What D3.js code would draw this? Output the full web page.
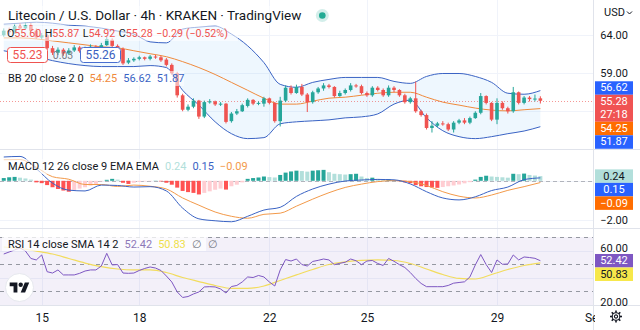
<!DOCTYPE html>
<html>
<head>
<meta charset="utf-8">
<title>LTCUSD 4h</title>
<script src="https://cdn.jsdelivr.net/npm/d3@7/dist/d3.min.js"></script>
<style>
  html, body { margin: 0; padding: 0; background: #ffffff; }
  svg { display: block; font-family: Roboto, "Noto Sans", "DejaVu Sans", sans-serif; }
</style>
</head>
<body>
<svg id="chart" width="640" height="330"></svg>
<script>
// ---- 4h candles, LTC/USD on KRAKEN, first bar 13 Aug 20:00 UTC ----
const firstCandle = Date.UTC(2022, 7, 13, 20);
const candleMs = 4 * 3600 * 1000;

const opens = [63.9,64.5,64.3,65.1,64.8,65.2,64.5,63.6,63.9,62.2,
  61.6,62.0,61.5,61.9,62.3,61.8,62.1,62.4,62.2,62.6,
  63.3,62.5,62.1,60.3,60.6,60.8,61.0,60.8,61.1,61.0,
  60.7,60.0,58.9,56.0,54.1,54.5,55.3,53.2,55.1,55.2,
  54.8,54.9,52.6,53.6,53.9,54.6,55.4,54.9,54.9,55.6,
  55.0,52.6,55.3,57.0,56.3,57.1,56.1,55.1,56.4,56.9,
  57.3,57.1,55.9,56.3,56.7,57.3,57.2,56.3,56.0,57.0,
  56.7,56.0,57.0,56.7,56.0,55.1,55.6,53.9,53.4,51.7,
  52.0,52.3,52.2,51.5,52.4,52.7,52.4,53.0,53.7,55.9,
  55.0,52.8,55.0,54.3,53.9,56.4,55.0,55.7,55.5,55.60];
const highs = [64.8,64.9,65.4,65.5,65.6,65.5,64.8,64.2,64.1,62.5,
  62.3,62.2,62.2,62.6,62.5,62.4,62.7,62.6,62.9,63.7,
  63.5,62.7,62.3,60.9,61.0,61.2,61.1,61.3,61.3,61.2,
  60.9,60.2,59.1,56.2,54.8,55.6,55.4,55.3,55.5,55.3,
  55.1,55.0,53.8,54.2,54.9,55.6,55.5,55.2,55.8,55.7,
  55.1,55.8,57.3,57.3,57.4,57.5,56.3,56.6,57.1,57.6,
  57.5,57.2,56.6,56.9,57.6,57.5,57.4,56.5,57.2,57.2,
  56.9,57.3,57.2,56.8,56.2,55.8,57.8,54.1,53.6,52.6,
  52.5,52.6,52.4,52.6,52.9,53.0,53.2,53.9,56.3,56.0,
  55.1,55.6,55.2,54.5,57.1,56.5,55.9,55.9,56.1,55.87];
const lows = [63.7,64.0,64.1,64.6,64.6,64.3,63.4,63.4,62.0,61.3,
  61.3,61.2,61.3,61.7,61.6,61.6,61.9,61.9,62.0,62.5,
  62.3,61.9,60.0,60.1,60.4,60.6,60.6,60.6,60.8,60.4,
  59.8,58.7,55.7,53.9,53.9,54.3,52.9,53.0,54.9,54.6,
  54.6,52.3,52.4,53.4,53.8,54.4,54.7,54.7,54.5,54.8,
  52.4,51.9,55.1,56.1,56.2,55.9,53.8,54.9,56.2,56.6,
  56.9,55.7,55.8,56.1,56.5,57.0,56.1,55.8,55.8,56.5,
  55.8,55.8,56.4,55.8,54.9,54.9,53.7,53.2,51.5,51.1,
  51.8,52.0,51.3,51.1,52.2,52.2,52.2,52.9,53.5,54.8,
  52.6,52.2,54.1,53.6,53.7,54.8,54.8,55.2,55.2,54.92];
const closes = [64.5,64.3,65.1,64.8,65.2,64.5,63.6,63.9,62.2,61.6,
  62.0,61.5,61.9,62.3,61.8,62.1,62.4,62.2,62.6,63.4,
  62.5,62.1,60.2,60.6,60.8,61.0,60.8,61.1,61.0,60.6,
  60.0,58.9,56.0,54.1,54.5,55.3,53.2,55.1,55.2,54.8,
  54.9,52.5,53.6,53.9,54.7,55.4,54.9,55.0,55.6,55.0,
  52.6,55.3,57.0,56.3,57.1,56.1,55.1,56.4,56.9,57.3,
  57.1,55.9,56.3,56.7,57.3,57.2,56.3,56.0,57.0,56.7,
  56.0,57.0,56.7,56.0,55.1,55.6,53.9,53.4,51.7,52.0,
  52.3,52.2,51.5,52.4,52.7,52.4,53.0,53.7,55.9,55.0,
  52.8,55.0,54.3,53.9,56.4,55.0,55.7,55.5,55.57,55.28];

// quote box
const bidPrice = 55.23;
const askPrice = 55.26;
const countdown = "27:18";

// Bollinger Bands (20, 2), one reading every 3rd candle
const lineStep = 3;
const bbUpper = [65.36,65.49,65.62,65.49,65.23,65.10,64.84,64.45,64.06,63.03,62.90,64.71,64.97,65.10,64.06,62.51,60.30,57.44,57.05,57.70,58.09,58.35,58.35,58.35,57.83,57.57,58.48,58.87,58.87,58.48,57.70,56.27,56.14,56.62];
const bbBasis = [63.55,63.55,63.42,63.16,62.90,62.64,62.38,62.25,61.86,61.47,61.08,60.43,59.65,58.74,57.70,56.66,55.62,54.84,54.84,55.23,55.62,55.75,56.01,56.27,56.40,56.40,55.75,55.10,54.71,54.32,54.05,53.95,54.10,54.25];
const bbLower = [61.86,61.47,61.08,60.56,60.17,59.91,59.78,59.78,59.78,59.91,59.65,56.66,54.71,52.51,50.95,50.30,50.43,52.25,52.51,52.64,52.77,53.03,53.16,53.55,54.84,55.36,53.03,51.34,50.56,50.30,50.56,50.95,51.30,51.87];

// MACD (12, 26, 9): lines every 3rd candle, histogram on every candle
const macdLine = [1.22,1.25,0.62,-0.12,-0.48,-0.52,-0.22,-0.24,-0.32,-0.30,-0.52,-1.40,-1.95,-2.05,-2.10,-1.82,-1.50,-1.36,-0.80,-0.42,-0.17,-0.01,0.04,0.07,0.05,-0.16,-0.56,-0.88,-0.98,-0.82,-0.50,-0.32,0.06,0.15];
const macdSignal = [1.08,1.09,0.70,0.21,0.08,-0.19,-0.19,-0.29,-0.22,-0.28,-0.42,-0.88,-1.25,-1.60,-1.82,-1.92,-1.72,-1.66,-1.30,-0.94,-0.61,-0.34,-0.17,-0.04,0.01,-0.04,-0.24,-0.56,-0.79,-0.88,-0.73,-0.49,-0.30,-0.09];
const macdHist = [0.14,0.18,0.20,0.16,0.12,0.06,-0.08,-0.12,-0.22,-0.33,
  -0.42,-0.50,-0.56,-0.48,-0.40,-0.33,-0.25,-0.16,-0.03,0.05,
  0.10,0.06,-0.10,-0.16,-0.10,-0.06,-0.03,-0.02,0.01,-0.03,
  -0.10,-0.20,-0.35,-0.52,-0.58,-0.62,-0.70,-0.62,-0.54,-0.46,
  -0.40,-0.45,-0.28,-0.20,-0.08,0.10,0.14,0.17,0.22,0.19,
  0.17,0.30,0.42,0.48,0.52,0.50,0.47,0.52,0.54,0.56,
  0.44,0.36,0.34,0.32,0.34,0.36,0.22,0.14,0.16,0.10,
  0.06,0.08,0.04,-0.02,-0.08,-0.12,-0.22,-0.28,-0.32,-0.34,
  -0.36,-0.32,-0.28,-0.24,-0.19,-0.13,-0.07,0.06,0.20,0.26,
  0.22,0.20,0.18,0.16,0.36,0.34,0.37,0.30,0.27,0.24];

// RSI (14) on every candle, its SMA (14) every 3rd candle
const rsi = [57.4,58.9,60.4,61.9,59.6,54.1,53.0,56.7,44.3,43.3,
  45.6,41.9,41.9,41.9,43.1,44.8,45.6,45.6,48.5,57.9,
  49.3,49.6,43.3,43.1,43.3,45.2,46.7,47.8,47.0,45.2,
  41.1,36.7,29.3,25.2,25.9,27.8,29.3,33.0,33.2,33.0,
  31.5,28.5,33.3,34.1,36.7,40.4,40.0,41.5,40.4,36.7,
  33.7,45.6,53.3,52.2,53.7,49.6,48.5,51.9,52.7,53.7,
  53.0,49.5,50.5,51.3,53.7,52.4,49.5,52.2,52.6,50.4,
  48.9,54.1,52.0,49.5,47.4,43.7,39.3,35.6,33.2,33.2,
  33.2,33.2,34.1,35.8,36.3,36.8,40.4,49.3,57.0,49.6,
  43.7,53.0,49.8,50.0,56.7,53.0,55.2,54.8,54.2,52.42];
const rsiMa = [62.6,61.5,59.6,57.4,54.1,50.7,48.1,46.3,45.6,45.6,43.7,40.0,37.0,34.1,31.9,31.9,33.7,37.8,41.9,45.9,49.6,51.6,52.7,53.0,52.6,50.4,46.3,42.2,39.3,38.9,42.2,45.9,48.9,50.83];

// axes
const timeTicks = [Date.UTC(2022,7,15), Date.UTC(2022,7,18), Date.UTC(2022,7,22), Date.UTC(2022,7,25), Date.UTC(2022,7,29), Date.UTC(2022,8,1)];
const timeTickLabels = ["15", "18", "22", "25", "29", "Sep"];
const priceTicks = [64, 59, 54, 49];
const priceTickLabels = [64, 59];
const macdTicks = [0, -2];
const macdTickLabels = [-2];
const rsiTicks = [60, 40, 20];
const rsiTickLabels = [60, 20];
const rsiLevels = [70, 50, 30];

// ---------------------------------------------------------------
const UP = "#26a69a", DOWN = "#ef5350", BLUE = "#2962ff", ORANGE = "#ff6d00", PURPLE = "#7e57c2", YELLOW = "#f2dc5d";
const W = 640, H = 330, PR = 593;
const pane = { price: [0, 149], macd: [150, 228], rsi: [229, 305] };

const svg = d3.select("#chart");
const defs = svg.append("defs");
function clip(id, x0, y0, x1, y1) {
  defs.append("clipPath").attr("id", id).append("rect")
    .attr("x", x0).attr("y", y0).attr("width", x1 - x0).attr("height", y1 - y0);
  return `url(#${id})`;
}

const x = d3.scaleUtc()
  .domain([Date.UTC(2022, 7, 15), Date.UTC(2022, 7, 29)])
  .range([41.7, 497]);
const yP = d3.scaleLinear().domain([59, 64]).range([72.5, 34.5]);
const yM = d3.scaleLinear().domain([0, -2]).range([180.8, 219.8]);
const yR = d3.scaleLinear().domain([30, 70]).range([291, 237]);

const tAt = i => new Date(firstCandle + i * candleMs);
const candles = opens.map((o, i) => ({ t: tAt(i), o, h: highs[i], l: lows[i], c: closes[i] }));
const sampled = arr => arr.map((v, k) => ({ t: tAt(Math.min(k * lineStep, opens.length - 1)), v }));

// ---- grid ----
const grid = svg.append("g").attr("stroke", "#f0f3fa").attr("stroke-width", 1);
grid.selectAll("line.v").data(timeTicks.filter(d => x(d) < PR)).join("line")
  .attr("x1", d => Math.round(x(d)) + 0.5).attr("x2", d => Math.round(x(d)) + 0.5)
  .attr("y1", 0).attr("y2", pane.rsi[1]);
grid.selectAll("line.p").data(priceTicks).join("line")
  .attr("x1", 0).attr("x2", PR).attr("y1", d => Math.round(yP(d)) + 0.5).attr("y2", d => Math.round(yP(d)) + 0.5);
grid.selectAll("line.m").data(macdTicks).join("line")
  .attr("x1", 0).attr("x2", PR).attr("y1", d => Math.round(yM(d)) + 0.5).attr("y2", d => Math.round(yM(d)) + 0.5);
grid.selectAll("line.r").data(rsiTicks).join("line")
  .attr("x1", 0).attr("x2", PR).attr("y1", d => Math.round(yR(d)) + 0.5).attr("y2", d => Math.round(yR(d)) + 0.5);

// ---- price pane ----
const gP = svg.append("g").attr("clip-path", clip("cp", 0, pane.price[0], PR, pane.price[1]));
const up = sampled(bbUpper), lo = sampled(bbLower), mid = sampled(bbBasis);
gP.append("path")
  .datum(up.map((d, k) => ({ t: d.t, a: d.v, b: lo[k].v })))
  .attr("fill", "rgba(33,150,243,0.08)")
  .attr("d", d3.area().x(d => x(d.t)).y0(d => yP(d.b)).y1(d => yP(d.a)).curve(d3.curveMonotoneX));
const bandLine = d3.line().x(d => x(d.t)).y(d => yP(d.v)).curve(d3.curveMonotoneX);
gP.append("path").datum(up).attr("fill", "none").attr("stroke", "#3a63c4").attr("stroke-width", 1).attr("d", bandLine);
gP.append("path").datum(lo).attr("fill", "none").attr("stroke", "#3a63c4").attr("stroke-width", 1).attr("d", bandLine);
gP.append("path").datum(mid).attr("fill", "none").attr("stroke", "#f08a3c").attr("stroke-width", 1).attr("d", bandLine);

const lastClose = closes[closes.length - 1];
gP.append("line").attr("x1", 0).attr("x2", PR)
  .attr("y1", Math.round(yP(lastClose)) + 0.5).attr("y2", Math.round(yP(lastClose)) + 0.5)
  .attr("stroke", DOWN).attr("stroke-opacity", 0.6).attr("stroke-dasharray", "1 2");

const gC = gP.append("g");
gC.selectAll("line").data(candles).join("line")
  .attr("x1", d => x(d.t)).attr("x2", d => x(d.t))
  .attr("y1", d => yP(d.h)).attr("y2", d => yP(d.l))
  .attr("stroke", d => d.c >= d.o ? UP : DOWN).attr("stroke-width", 1);
gC.selectAll("rect").data(candles).join("rect")
  .attr("x", d => x(d.t) - 1.8).attr("width", 3.6)
  .attr("y", d => yP(Math.max(d.o, d.c)))
  .attr("height", d => Math.max(1, Math.abs(yP(d.o) - yP(d.c))))
  .attr("fill", d => d.c >= d.o ? UP : DOWN);

// ---- MACD pane ----
const gM = svg.append("g").attr("clip-path", clip("cm", 0, pane.macd[0], PR, pane.macd[1]));
gM.append("line").attr("x1", 0).attr("x2", PR).attr("y1", Math.round(yM(0)) + 0.5).attr("y2", Math.round(yM(0)) + 0.5)
  .attr("stroke", "#9598a1").attr("stroke-dasharray", "4 3").attr("stroke-opacity", 0.7);
gM.selectAll("rect").data(macdHist).join("rect")
  .attr("x", (v, i) => x(tAt(i)) - 2).attr("width", 4)
  .attr("y", v => Math.min(yM(v), yM(0)))
  .attr("height", v => Math.abs(yM(v) - yM(0)))
  .attr("fill", (v, i) => {
    const prev = i > 0 ? macdHist[i - 1] : v - 0.01;
    if (v >= 0) return v >= prev ? UP : "#b2dfdb";
    return v < prev ? "#ff5252" : "#ffcdd2";
  });
const mLine = d3.line().x(d => x(d.t)).y(d => yM(d.v)).curve(d3.curveMonotoneX);
gM.append("path").datum(sampled(macdSignal)).attr("fill", "none").attr("stroke", "#f39a4a").attr("stroke-width", 1).attr("d", mLine);
gM.append("path").datum(sampled(macdLine)).attr("fill", "none").attr("stroke", "#3a63c4").attr("stroke-width", 1).attr("d", mLine);

// ---- RSI pane ----
const gR = svg.append("g").attr("clip-path", clip("cr", 0, pane.rsi[0], PR, pane.rsi[1]));
gR.append("rect").attr("x", 0).attr("width", PR).attr("y", yR(70)).attr("height", pane.rsi[1] - yR(70))
  .attr("fill", "rgba(126,87,194,0.09)");
gR.selectAll("line.lv").data(rsiLevels).join("line")
  .attr("x1", 0).attr("x2", PR).attr("y1", d => Math.round(yR(d)) + 0.5).attr("y2", d => Math.round(yR(d)) + 0.5)
  .attr("stroke", "#9598a1").attr("stroke-dasharray", "4 4");
gR.append("path").datum(sampled(rsiMa)).attr("fill", "none").attr("stroke", YELLOW).attr("stroke-width", 1.2)
  .attr("d", d3.line().x(d => x(d.t)).y(d => yR(d.v)).curve(d3.curveMonotoneX));
gR.append("path").datum(rsi).attr("fill", "none").attr("stroke", PURPLE).attr("stroke-width", 1)
  .attr("d", d3.line().x((v, i) => x(tAt(i))).y(v => yR(v)));

// ---- pane separators and axis borders ----
const sep = svg.append("g").attr("stroke", "#e0e3eb").attr("stroke-width", 1);
[pane.price[1], pane.macd[1], pane.rsi[1]].forEach(y => sep.append("line").attr("x1", 0).attr("x2", W).attr("y1", y + 0.5).attr("y2", y + 0.5));
sep.append("line").attr("x1", PR + 0.5).attr("x2", PR + 0.5).attr("y1", 0).attr("y2", H);

// ---- time axis ----
const gT = svg.append("g").attr("clip-path", clip("ct", 0, pane.rsi[1] + 1, PR + 2, H))
  .append("g").attr("transform", `translate(0,${pane.rsi[1] + 5})`)
  .call(d3.axisBottom(x).tickValues(timeTicks.map(d => new Date(d))).tickFormat((d, i) => timeTickLabels[i]).tickSize(0).tickPadding(3));
gT.select(".domain").remove();
gT.selectAll("text").attr("font-size", 12).attr("fill", "#131722").attr("font-family", "Roboto, sans-serif");

// ---- right price scales ----
function rightAxis(scale, ticks, lift) {
  const g = svg.append("g").attr("transform", `translate(628,${-lift})`)
    .call(d3.axisRight(scale).tickValues(ticks).tickFormat(d3.format(".2f")).tickSize(0).tickPadding(0));
  g.select(".domain").remove();
  g.selectAll("text").attr("text-anchor", "end").attr("font-size", 11).attr("fill", "#131722").attr("font-family", "Roboto, sans-serif");
}
rightAxis(yP, priceTickLabels, 0);
rightAxis(yM, macdTickLabels, 0);
rightAxis(yR, rsiTickLabels, 3);

svg.append("text").attr("x", 604).attr("y", 16).attr("font-size", 11).attr("fill", "#131722").text("USD");
svg.append("path").attr("d", "M627 11.5l2.5 2.5l2.5-2.5").attr("fill", "none").attr("stroke", "#131722").attr("stroke-width", 1);

// value tags on the scales, stacked so they do not overlap
function tags(list, scale) {
  const hgt = 13.5;
  list.forEach(d => { d.h = d.sub ? 27 : hgt; d.top = scale(d.v) - (d.sub ? 6 : hgt / 2); });
  list.sort((a, b) => a.top - b.top);
  const a = Math.max(0, list.findIndex(d => d.anchor));
  for (let i = a + 1; i < list.length; i++) list[i].top = Math.max(list[i].top, list[i - 1].top + list[i - 1].h);
  for (let i = a - 1; i >= 0; i--) list[i].top = Math.min(list[i].top, list[i + 1].top - list[i].h);
  const g = svg.append("g").attr("font-size", 11).attr("font-family", "Roboto, sans-serif");
  list.forEach(d => {
    g.append("rect").attr("x", 595).attr("y", d.top).attr("width", 38).attr("height", d.h).attr("fill", d.bg);
    g.append("text").attr("x", 614).attr("y", d.top + 10.2).attr("text-anchor", "middle").attr("fill", d.fg).text(d.label);
    if (d.sub) g.append("text").attr("x", 614).attr("y", d.top + 23.4).attr("text-anchor", "middle").attr("fill", d.fg).text(d.sub);
  });
}
const fmt = d3.format(".2f");
const last = a => a[a.length - 1];
tags([
  { v: last(bbUpper), bg: BLUE, fg: "#fff", label: fmt(last(bbUpper)) },
  { v: lastClose, bg: "#f05353", fg: "#fff", label: fmt(lastClose), sub: countdown, anchor: true },
  { v: last(bbBasis), bg: ORANGE, fg: "#fff", label: fmt(last(bbBasis)) },
  { v: last(bbLower), bg: BLUE, fg: "#fff", label: fmt(last(bbLower)) }
], yP);
tags([
  { v: last(macdHist), bg: "#b2dfdb", fg: "#131722", label: fmt(last(macdHist)) },
  { v: last(macdLine), bg: BLUE, fg: "#fff", label: fmt(last(macdLine)) },
  { v: last(macdSignal), bg: ORANGE, fg: "#fff", label: fmt(last(macdSignal)) }
], yM);
tags([
  { v: last(rsi), bg: PURPLE, fg: "#fff", label: fmt(last(rsi)) },
  { v: last(rsiMa), bg: "#f7e84a", fg: "#131722", label: fmt(last(rsiMa)) }
], yR);

// settings gear
const gear = svg.append("g").attr("transform", "translate(616,316.5)").attr("stroke", "#131722").attr("fill", "none").attr("stroke-width", 1.1);
gear.append("circle").attr("r", 3.8);
gear.append("circle").attr("r", 1.6);
d3.range(8).forEach(k => {
  const a = k * Math.PI / 4;
  gear.append("line").attr("x1", Math.cos(a) * 3.8).attr("y1", Math.sin(a) * 3.8)
    .attr("x2", Math.cos(a) * 6).attr("y2", Math.sin(a) * 6).attr("stroke-width", 1.6);
});

// ---- legends ----
const lg = svg.append("g").attr("font-family", "Roboto, sans-serif");
function backdrop(x0, y0, w, h, op) {
  lg.append("rect").attr("x", x0).attr("y", y0).attr("width", w).attr("height", h).attr("fill", "#fff").attr("fill-opacity", op);
}
backdrop(2, 6, 335, 19, 0.55);
backdrop(2, 26, 236, 15, 0.55);
backdrop(2, 71, 182, 15, 0.55);
backdrop(2, 159, 240, 15, 0.6);
backdrop(2, 237, 204, 14, 0.75);

const title = lg.append("text").attr("x", 8).attr("y", 20).attr("font-size", 13.5).attr("fill", "#131722")
  .text("Litecoin / U.S. Dollar · 4h · KRAKEN · TradingView");
const tw = title.node().getComputedTextLength();
lg.append("circle").attr("cx", 8 + tw + 21).attr("cy", 15.5).attr("r", 6.5).attr("fill", "#22ab94").attr("fill-opacity", 0.2);
lg.append("circle").attr("cx", 8 + tw + 21).attr("cy", 15.5).attr("r", 3.3).attr("fill", "#22ab94");

const o = last(opens), h = last(highs), l = last(lows), c = lastClose, prevC = closes[closes.length - 2];
const chg = c - prevC;
const ohlc = lg.append("text").attr("x", 7).attr("y", 37).attr("font-size", 10.7);
[["O", fmt(o)], ["H", fmt(h)], ["L", fmt(l)], ["C", fmt(c)]].forEach(([k, v], i) => {
  ohlc.append("tspan").attr("fill", "#131722").attr("dx", i ? 3.5 : 0).text(k);
  ohlc.append("tspan").attr("fill", DOWN).text(v);
});
ohlc.append("tspan").attr("fill", DOWN).attr("dx", 3.5)
  .text(`${d3.format("+.2f")(chg).replace("-", "−")} (${d3.format("+.2%")(chg / prevC).replace("-", "−")})`);

// bid / ask boxes
lg.append("rect").attr("x", 7.5).attr("y", 47.5).attr("width", 40).attr("height", 15).attr("rx", 3)
  .attr("fill", "#fff").attr("stroke", DOWN);
lg.append("text").attr("x", 27.5).attr("y", 59.3).attr("text-anchor", "middle").attr("font-size", 12).attr("fill", DOWN).text(fmt(bidPrice));
lg.append("text").attr("x", 63).attr("y", 58.8).attr("text-anchor", "middle").attr("font-size", 10.5).attr("fill", "#787b86").text(fmt(askPrice - bidPrice));
lg.append("rect").attr("x", 80.5).attr("y", 47.5).attr("width", 40).attr("height", 15).attr("rx", 3)
  .attr("fill", "#fff").attr("stroke", "#4a6fd0");
lg.append("text").attr("x", 100.5).attr("y", 59.3).attr("text-anchor", "middle").attr("font-size", 12).attr("fill", "#3a5fc0").text(fmt(askPrice));

function legendRow(y, name, items) {
  const t = lg.append("text").attr("x", 8).attr("y", y).attr("font-size", 11);
  t.append("tspan").attr("fill", "#131722").text(name);
  items.forEach(([txt, col]) => t.append("tspan").attr("dx", 6).attr("fill", col).text(txt));
}
legendRow(82, "BB 20 close 2 0", [[fmt(last(bbBasis)), "#f08a3c"], [fmt(last(bbUpper)), "#3a63c4"], [fmt(last(bbLower)), "#3a63c4"]]);
legendRow(170, "MACD 12 26 close 9 EMA EMA", [[fmt(last(macdHist)), "#b2dfdb"], [fmt(last(macdLine)), "#3a63c4"], [fmt(last(macdSignal)).replace("-", "−"), "#f39a4a"]]);
legendRow(248, "RSI 14 close SMA 14 2", [[fmt(last(rsi)), "#8e79b8"], [fmt(last(rsiMa)), "#efe04a"], ["∅", "#787b86"], ["∅", "#787b86"]]);

// TradingView badge
svg.append("circle").attr("cx", 19.5).attr("cy", 287.5).attr("r", 14).attr("fill", "#fff").attr("stroke", "#e6e8ee");
const logo = svg.append("g").attr("transform", "translate(9.7,280.3) scale(0.55)").attr("fill", "#131722");
logo.append("path").attr("d", "M14 22H7V11H0V4h14v18z");
logo.append("circle").attr("cx", 20).attr("cy", 8).attr("r", 4);
logo.append("path").attr("d", "M28 22h-8l7.5-18h8L28 22z");
</script>
</body>
</html>
